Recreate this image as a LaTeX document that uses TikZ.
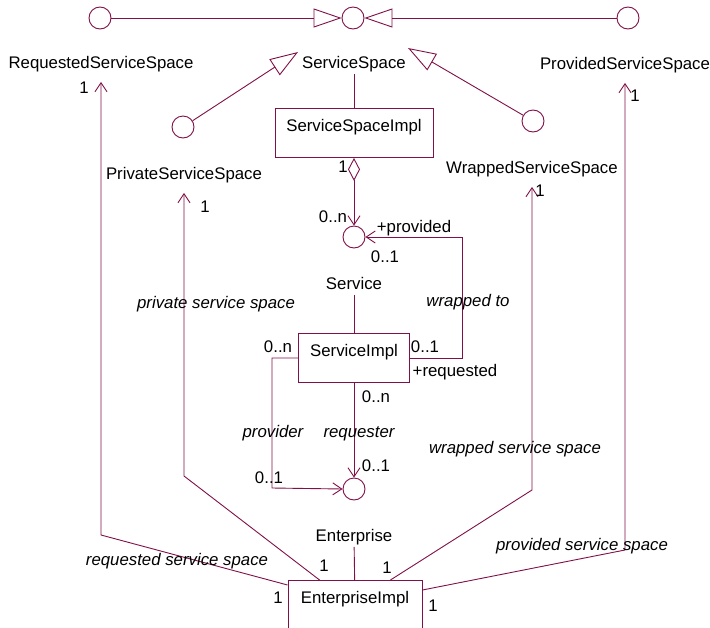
\documentclass[tikz,border=0pt]{standalone}
\usepackage{fontspec}
\setmainfont{Liberation Sans}
\usetikzlibrary{arrows.meta, calc}

\begin{document}
\begin{tikzpicture}[
        x    = 1pt,
        y    = -1pt,
        font = \fontsize{16.8}{19}\selectfont
    ]

        \definecolor{umlline}{RGB}{128,16,72}

        \tikzset{%
            iface/.style = {%
                circle,
                draw         = umlline,
                line width   = 0.9pt,
                minimum size = 22pt,
                inner sep    = 0pt
            },
            umlclass/.style = {%
                rectangle,
                draw        = umlline,
                line width  = 0.9pt,
                anchor      = north,
                text height = 18pt,
                text depth  = 21pt,
                inner ysep  = 5pt
            },
            lbl/.style = {%
                text height = 12pt,
                text depth  = 3.5pt,
                inner sep   = 2pt
            },
            role/.style = {%
                lbl,
                font = \fontsize{16.8}{19}\selectfont\itshape
            },
            link/.style = {%
                draw       = umlline,
                line width = 0.9pt
            },
            nav/.style    = {link, -{Straight Barb[length = 9pt, width = 12pt]}},
            toiface/.style = {nav, shorten > = 8pt},
            gen/.style    = {link, -{Triangle[open, length = 28pt, width = 19pt]}}
        }

        \useasboundingbox (0, 0) rectangle (710, 627);

        % interfaces
        \node[iface] (reqI)  at (100, 18)  {};
        \node[iface] (svcI)  at (353, 18)  {};
        \node[iface] (provI) at (628, 18)  {};
        \node[iface] (privI) at (183, 127) {};
        \node[iface] (wrapI) at (533, 121) {};
        \node[iface] (svcIn) at (354, 237) {};
        \node[iface] (entI)  at (354, 489) {};

        \node[lbl] (reqL)   at (101, 64)  {RequestedServiceSpace};
        \node[lbl] (svcL)   at (354, 64)  {ServiceSpace};
        \node[lbl] (provL)  at (625, 65)  {ProvidedServiceSpace};
        \node[lbl] (privL)  at (184, 175) {PrivateServiceSpace};
        \node[lbl] (wrapL)  at (532, 169) {WrappedServiceSpace};
        \node[lbl] (svcLbl) at (354, 285) {Service};
        \node[lbl] (entLbl) at (354, 537) {Enterprise};

        % classes
        \node[umlclass, minimum width = 158pt] (ssImpl) at (354, 108) {ServiceSpaceImpl};
        \node[umlclass, minimum width = 111pt] (sImpl)  at (354, 333) {ServiceImpl};
        \node[umlclass, minimum width = 134pt] (eImpl)  at (355, 580) {EnterpriseImpl};

        \coordinate (privTip)  at (298, 52);
        \coordinate (wrapTip)  at (408, 48);
        \coordinate (selfBend) at (462, 237);
        \coordinate (giveBend) at (272, 488);
        \coordinate (reqBend)  at (101, 535);
        \coordinate (privBend) at (184, 476);
        \coordinate (wrapBend) at (532, 490);
        \coordinate (provBend) at (625, 550);

        % generalisations
        \draw[gen] (reqI) -- (svcI);
        \draw[gen] (provI) -- (svcI);
        \draw[gen] (privI) -- (privTip);
        \draw[gen] (wrapI) -- (wrapTip);

        \draw[link] (svcL) -- (ssImpl);
        \draw[link] (svcLbl) -- (sImpl);
        \draw[link] (entLbl) -- (eImpl);

        \draw[
            link,
            {Diamond[open, length = 23pt, width = 12pt]}-{Straight Barb[length = 9pt, width = 12pt]}
        ] (ssImpl.south) -- (svcIn.north);

        \draw[nav] (sImpl.east) -| (selfBend) -- (svcIn.east);
        \draw[nav] (sImpl.west) -| (giveBend) -- (entI.west);
        \draw[nav] (sImpl.south) -- (entI.north);

        \draw[toiface] ([yshift = -5pt]eImpl.north west) -- (reqBend) -- (reqL.south);
        \draw[toiface] ($(eImpl.north west) + (32, 0)$) -- (privBend) -- (privL.south);
        \draw[toiface] ($(eImpl.north east) + (-32, 0)$) -- (wrapBend) -- (wrapL.south);
        \draw[toiface] ([yshift = -10pt]eImpl.north east) -- (provBend) -- (provL.south);

        % multiplicities and roles
        \node[lbl] (m1)  at (84, 89)   {1};
        \node[lbl] (m2)  at (635, 97)  {1};
        \node[lbl] (m3)  at (205, 208) {1};
        \node[lbl] (m4)  at (540, 192) {1};
        \node[lbl] (m5)  at (343, 168) {1};
        \node[lbl] (m6)  at (333, 218) {0..n};
        \node[lbl] (r1)  at (414, 228) {+provided};
        \node[lbl] (m7)  at (385, 258) {0..1};
        \node[lbl] (m8)  at (278, 348) {0..n};
        \node[lbl] (m9)  at (425, 348) {0..1};
        \node[lbl] (r2)  at (455, 372) {+requested};
        \node[lbl] (m10) at (376, 398) {0..n};
        \node[lbl] (m11) at (269, 479) {0..1};
        \node[lbl] (m12) at (376, 467) {0..1};
        \node[lbl] (m13) at (278, 599) {1};
        \node[lbl] (m14) at (324, 567) {1};
        \node[lbl] (m15) at (387, 569) {1};
        \node[lbl] (m16) at (433, 607) {1};

        \node[role] (ro1) at (468, 302) {wrapped to};
        \node[role] (ro2) at (273, 433) {provider};
        \node[role] (ro3) at (359, 433) {requester};
        \node[role] (ro4) at (216, 304) {private service space};
        \node[role] (ro5) at (515, 449) {wrapped service space};
        \node[role] (ro6) at (177, 561) {requested service space};
        \node[role] (ro7) at (582, 546) {provided service space};

    \end{tikzpicture}
\end{document}
